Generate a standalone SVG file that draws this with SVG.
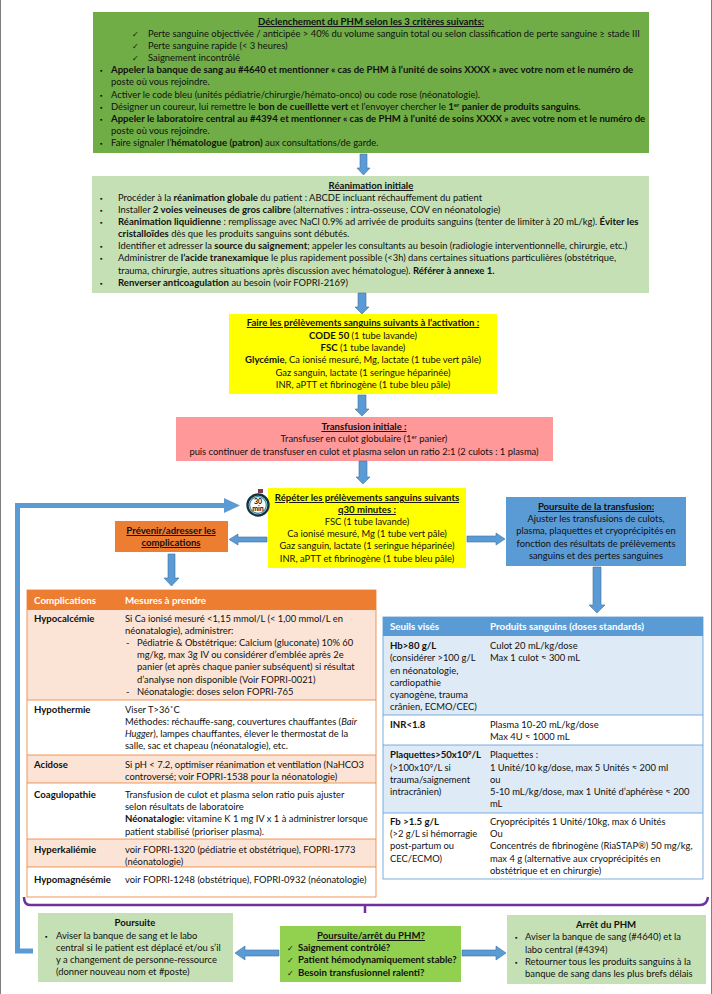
<svg xmlns="http://www.w3.org/2000/svg" width="712" height="994" viewBox="0 0 712 994">
<style>
text{font-family:Lato,"Liberation Sans",sans-serif;font-size:9.4px;fill:#111}
.b{font-weight:700;font-size:9.6px}
.c{text-anchor:middle}
.u{font-weight:700;font-size:9.6px;text-decoration:underline}
.i{font-style:italic}
.w{fill:#fff;font-weight:700;font-size:9.8px}
.k{font-family:"DejaVu Sans",sans-serif;font-size:8px}
.d{font-size:6.500px}
.arrow{fill:#5B9BD5;stroke:#41719C;stroke-width:.6}
.sup{font-size:6px}
.rowL{stroke:#ED7D31;stroke-width:.8}
.rowR{stroke:#5B9BD5;stroke-width:.8}
</style>
<rect width="712" height="994" fill="#fff"/>
<path d="M.5 0V994M711.5 0V994" stroke="#7f7f7f" fill="none"/>

<g id="declenchement">
<rect x="93" y="12" width="556" height="141" fill="#70AD47"/>
<text x="371" y="25" class="c u">Déclenchement du PHM selon les 3 critères suivants:</text>
<text x="132" y="37" class="k">✓</text><text x="148" y="37">Perte sanguine objectivée / anticipée &gt; 40% du volume sanguin total ou selon classification de perte sanguine ≥ stade III</text>
<text x="132" y="49" class="k">✓</text><text x="148" y="49">Perte sanguine rapide (&lt; 3 heures)</text>
<text x="132" y="61" class="k">✓</text><text x="148" y="61">Saignement incontrôlé</text>
<text x="100" y="73" class="d">▪</text><text x="111" y="73" class="b">Appeler la banque de sang au #4640 et mentionner « cas de PHM à l’unité de soins XXXX » avec votre nom et le numéro de</text>
<text x="111" y="85">poste où vous rejoindre.</text>
<text x="100" y="98" class="d">▪</text><text x="111" y="98">Activer le code bleu (unités pédiatrie/chirurgie/hémato-onco) ou code rose (néonatologie).</text>
<text x="100" y="110" class="d">▪</text><text x="111" y="110">Désigner un coureur, lui remettre le <tspan class="b">bon de cueillette vert</tspan> et l’envoyer chercher le <tspan class="b">1<tspan class="sup" dy="-3">er</tspan><tspan dy="3"> panier de produits sanguins.</tspan></tspan></text>
<text x="100" y="122" class="d">▪</text><text x="111" y="122" class="b">Appeler le laboratoire central au #4394 et mentionner « cas de PHM à l’unité de soins XXXX » avec votre nom et le numéro de</text>
<text x="111" y="134">poste où vous rejoindre.</text>
<text x="100" y="146" class="d">▪</text><text x="111" y="146">Faire signaler l’<tspan class="b">hématologue (patron)</tspan> aux consultations/de garde.</text>
</g>

<g id="reanimation">
<rect x="92" y="176" width="557" height="117" fill="#C5E0B4"/>
<text x="371" y="189" class="c u">Réanimation initiale</text>
<text x="100" y="201" class="d">▪</text><text x="118" y="201">Procéder à la <tspan class="b">réanimation globale</tspan> du patient : ABCDE incluant réchauffement du patient</text>
<text x="100" y="213" class="d">▪</text><text x="118" y="213">Installer <tspan class="b">2 voies veineuses de gros calibre</tspan> (alternatives : intra-osseuse, COV en néonatologie)</text>
<text x="100" y="225" class="d">▪</text><text x="118" y="225"><tspan class="b">Réanimation liquidienne</tspan> : remplissage avec NaCl 0.9% ad arrivée de produits sanguins (tenter de limiter à 20 mL/kg). <tspan class="b">Éviter les</tspan></text>
<text x="118" y="237"><tspan class="b">cristalloïdes</tspan> dès que les produits sanguins sont débutés.</text>
<text x="100" y="249" class="d">▪</text><text x="118" y="249">Identifier et adresser la <tspan class="b">source du saignement</tspan>; appeler les consultants au besoin (radiologie interventionnelle, chirurgie, etc.)</text>
<text x="100" y="261" class="d">▪</text><text x="118" y="261">Administrer de <tspan class="b">l’acide tranexamique</tspan> le plus rapidement possible (&lt;3h) dans certaines situations particulières (obstétrique,</text>
<text x="118" y="274">trauma, chirurgie, autres situations après discussion avec hématologue). <tspan class="b">Référer à annexe 1.</tspan></text>
<text x="100" y="286" class="d">▪</text><text x="118" y="286"><tspan class="b">Renverser anticoagulation</tspan> au besoin (voir FOPRI-2169)</text>
</g>

<g id="prelevements-activation">
<rect x="229" y="314" width="268" height="80" fill="#FFFF00"/>
<text x="363" y="326" class="c u">Faire les prélèvements sanguins suivants à l’activation :</text>
<text x="363" y="339" class="c"><tspan class="b">CODE 50</tspan> (1 tube lavande)</text>
<text x="363" y="351" class="c"><tspan class="b">FSC</tspan> (1 tube lavande)</text>
<text x="363" y="363" class="c"><tspan class="b">Glycémie</tspan>, Ca ionisé mesuré, Mg, lactate (1 tube vert pâle)</text>
<text x="363" y="376" class="c">Gaz sanguin, lactate (1 seringue héparinée)</text>
<text x="363" y="388" class="c">INR, aPTT et fibrinogène (1 tube bleu pâle)</text>
</g>

<g id="transfusion-initiale">
<rect x="176" y="417" width="377" height="44" fill="#FF9999"/>
<text x="364" y="430" class="c u">Transfusion initiale :</text>
<text x="364" y="442" class="c">Transfuser en culot globulaire (1<tspan class="sup" dy="-3">er</tspan><tspan dy="3"> panier)</tspan></text>
<text x="364" y="455" class="c">puis continuer de transfuser en culot et plasma selon un ratio 2:1 (2 culots : 1 plasma)</text>
</g>

<g id="repeter-prelevements">
<rect x="268" y="488" width="198" height="80" fill="#FFFF00"/>
<text x="367" y="501" class="c u">Répéter les prélèvements sanguins suivants</text>
<text x="367" y="513" class="c u">q30 minutes :</text>
<text x="367" y="525" class="c">FSC (1 tube lavande)</text>
<text x="367" y="537" class="c">Ca ionisé mesuré, Mg (1 tube vert pâle)</text>
<text x="367" y="549" class="c">Gaz sanguin, lactate (1 seringue héparinée)</text>
<text x="367" y="562" class="c">INR, aPTT et fibrinogène (1 tube bleu pâle)</text>
</g>

<g id="minuteur">
<rect x="258" y="489" width="5" height="4" fill="#7a3b4a"/>
<circle cx="258" cy="505" r="10.500" fill="#fff" stroke="#16323f" stroke-width="2.400"/>
<circle cx="258" cy="505" r="8.300" fill="none" stroke="#2e8fa8" stroke-width="1.200"/>
<text x="258" y="504" class="c" style="font-size:7px;font-weight:700">30</text>
<text x="258" y="511" class="c" style="font-size:7px;font-weight:700">min</text>
</g>

<g id="prevenir">
<rect x="115" y="521" width="113" height="31" fill="#ED7D31"/>
<text x="171" y="534" class="c u">Prévenir/adresser les</text>
<text x="171" y="546" class="c u">complications</text>
</g>

<g id="poursuite-transfusion">
<rect x="506" y="497" width="180" height="69" fill="#5B9BD5"/>
<text x="596" y="510" class="c u">Poursuite de la transfusion:</text>
<text x="596" y="522" class="c">Ajuster les transfusions de culots,</text>
<text x="596" y="534" class="c">plasma, plaquettes et cryoprécipités en</text>
<text x="596" y="547" class="c">fonction des résultats de prélèvements</text>
<text x="596" y="559" class="c">sanguins et des pertes sanguines</text>
</g>

<g id="table-complications">
<rect x="27" y="590" width="349" height="20" fill="#ED7D31"/>
<rect x="27" y="610" width="349" height="90" fill="#FBE4D5"/>
<rect x="27" y="755" width="349" height="28" fill="#FBE4D5"/>
<rect x="27" y="839" width="349" height="28" fill="#FBE4D5"/>
<rect x="27" y="590" width="349" height="307" fill="none" class="rowL"/>
<path d="M27 700H376M27 755H376M27 783H376M27 839H376M27 867H376" class="rowL" fill="none"/>
<text x="34" y="604" class="w">Complications</text><text x="125" y="604" class="w">Mesures à prendre</text>
<text x="34" y="622" class="b">Hypocalcémie</text>
<text x="125" y="622">Si Ca ionisé mesuré &lt;1,15 mmol/L (&lt; 1,00 mmol/L en</text>
<text x="125" y="634">néonatalogie), administrer:</text>
<text x="126" y="646">-</text><text x="137" y="646">Pédiatrie &amp; Obstétrique: Calcium (gluconate) 10% 60</text>
<text x="137" y="658">mg/kg, max 3g IV ou considérer d’emblée après 2e</text>
<text x="137" y="670">panier (et après chaque panier subséquent) si résultat</text>
<text x="137" y="683">d’analyse non disponible (Voir FOPRI-0021)</text>
<text x="126" y="695">-</text><text x="137" y="695">Néonatalogie: doses selon FOPRI-765</text>
<text x="34" y="713" class="b">Hypothermie</text>
<text x="125" y="713">Viser T&gt;36˚C</text>
<text x="125" y="725">Méthodes: réchauffe-sang, couvertures chauffantes (<tspan class="i">Bair</tspan></text>
<text x="125" y="737"><tspan class="i">Hugger</tspan>), lampes chauffantes, élever le thermostat de la</text>
<text x="125" y="749">salle, sac et chapeau (néonatalogie), etc.</text>
<text x="34" y="768" class="b">Acidose</text>
<text x="125" y="768">Si pH &lt; 7.2, optimiser réanimation et ventilation (NaHCO3</text>
<text x="125" y="780">controversé; voir FOPRI-1538 pour la néonatologie)</text>
<text x="34" y="798" class="b">Coagulopathie</text>
<text x="125" y="798">Transfusion de culot et plasma selon ratio puis ajuster</text>
<text x="125" y="810">selon résultats de laboratoire</text>
<text x="125" y="822"><tspan class="b">Néonatalogie:</tspan> vitamine K 1 mg IV x 1 à administrer lorsque</text>
<text x="125" y="835">patient stabilisé (prioriser plasma).</text>
<text x="34" y="853" class="b">Hyperkaliémie</text>
<text x="125" y="853">voir FOPRI-1320 (pédiatrie et obstétrique), FOPRI-1773</text>
<text x="125" y="865">(néonatologie)</text>
<text x="34" y="883" class="b">Hypomagnésémie</text>
<text x="125" y="883">voir FOPRI-1248 (obstétrique), FOPRI-0932 (néonatologie)</text>
</g>

<g id="table-produits">
<rect x="383" y="617" width="320" height="19" fill="#5B9BD5"/>
<rect x="383" y="636" width="320" height="79" fill="#DEEAF6"/>
<rect x="383" y="745" width="320" height="68" fill="#DEEAF6"/>
<rect x="383" y="617" width="320" height="262" fill="none" class="rowR"/>
<path d="M383 715H703M383 745H703M383 813H703" class="rowR" fill="none"/>
<text x="390" y="630" class="w">Seuils visés</text><text x="490" y="630" class="w">Produits sanguins (doses standards)</text>
<text x="390" y="649" class="b">Hb&gt;80 g/L</text>
<text x="390" y="661">(considérer &gt;100 g/L</text>
<text x="390" y="674">en néonatologie,</text>
<text x="390" y="686">cardiopathie</text>
<text x="390" y="698">cyanogène, trauma</text>
<text x="390" y="710">crânien, ECMO/CEC)</text>
<text x="490" y="649">Culot 20 mL/kg/dose</text>
<text x="490" y="661">Max 1 culot ≈ 300 mL</text>
<text x="390" y="728" class="b">INR&lt;1.8</text>
<text x="490" y="728">Plasma 10-20 mL/kg/dose</text>
<text x="490" y="740">Max 4U ≈ 1000 mL</text>
<text x="390" y="758" class="b">Plaquettes&gt;50x10<tspan class="sup" dy="-3">9</tspan><tspan dy="3">/L</tspan></text>
<text x="390" y="771">(&gt;100x10<tspan class="sup" dy="-3">9</tspan><tspan dy="3">/L si</tspan></text>
<text x="390" y="783">trauma/saignement</text>
<text x="390" y="795">intracrânien)</text>
<text x="490" y="758">Plaquettes :</text>
<text x="490" y="771">1 Unité/10 kg/dose, max 5 Unités ≈ 200 ml</text>
<text x="490" y="783">ou</text>
<text x="490" y="795">5-10 mL/kg/dose, max 1 Unité d’aphérèse ≈ 200</text>
<text x="490" y="807">mL</text>
<text x="390" y="825" class="b">Fb &gt;1.5 g/L</text>
<text x="390" y="837">(&gt;2 g/L si hémorragie</text>
<text x="390" y="849">post-partum ou</text>
<text x="390" y="862">CEC/ECMO)</text>
<text x="490" y="825">Cryoprécipités 1 Unité/10kg, max 6 Unités</text>
<text x="490" y="837">Ou</text>
<text x="490" y="849">Concentrés de fibrinogène (RiaSTAP®) 50 mg/kg,</text>
<text x="490" y="862">max 4 g (alternative aux cryoprécipités en</text>
<text x="490" y="874">obstétrique et en chirurgie)</text>
</g>

<g id="poursuite">
<rect x="38" y="913" width="195" height="69" fill="#C5E0B4"/>
<text x="135" y="926" class="c b">Poursuite</text>
<text x="45" y="939" class="d">▪</text><text x="56" y="939">Aviser la banque de sang et le labo</text>
<text x="56" y="951">central si le patient est déplacé et/ou s’il</text>
<text x="56" y="963">y a changement de personne-ressource</text>
<text x="56" y="975">(donner nouveau nom et #poste)</text>
</g>

<g id="decision">
<rect x="280" y="926" width="181" height="56" fill="#92D050"/>
<text x="371" y="939" class="c u">Poursuite/arrêt du PHM?</text>
<text x="287" y="951" class="k">✓</text><text x="298" y="951" class="b">Saignement contrôlé?</text>
<text x="287" y="963" class="k">✓</text><text x="298" y="963" class="b">Patient hémodynamiquement stable?</text>
<text x="287" y="976" class="k">✓</text><text x="298" y="976" class="b">Besoin transfusionnel ralenti?</text>
</g>

<g id="arret">
<rect x="507" y="915" width="199" height="69" fill="#C5E0B4"/>
<text x="606" y="928" class="c b">Arrêt du PHM</text>
<text x="515" y="940" class="d">▪</text><text x="525" y="940">Aviser la banque de sang (#4640) et la</text>
<text x="525" y="953">labo central (#4394)</text>
<text x="515" y="965" class="d">▪</text><text x="525" y="965">Retourner tous les produits sanguins à la</text>
<text x="525" y="977">banque de sang dans les plus brefs délais</text>
</g>

<g id="connecteurs">
<path class="arrow" d="M360 154H367V168H370L363.500 175L357 168H360Z"/>
<path class="arrow" d="M358 293H366V307H369L362 314L355 307H358Z"/>
<path class="arrow" d="M358 395H366V409H369L362 416L355 409H358Z"/>
<path class="arrow" d="M359 461H367V477H370L363 484L356 477H359Z"/>
<path class="arrow" d="M267 537V542H238V545L229 539.500L238 534V537Z"/>
<path class="arrow" d="M467 536V542H496V545L505 539L496 533V536Z"/>
<path class="arrow" d="M168 554H175V578H179L171.500 586L164 578H168Z"/>
<path class="arrow" d="M593 567H601V605H605L597 613L589 605H593Z"/>
<path class="arrow" d="M279 950V956H245V960L235 953L245 946V950Z"/>
<path class="arrow" d="M462 950V956H496V960L506 953L496 946V950Z"/>
<path d="M33 951H17.500V505.500H226" fill="none" stroke="#5B9BD5" stroke-width="5"/>
<path d="M224 498L240 505.500L224 513Z" fill="#5B9BD5"/>
<path d="M24 897Q24 905 30 905H700Q707 905 708 897M365 905V913" fill="none" stroke="#7030A0" stroke-width="2.500"/>
</g>
</svg>
